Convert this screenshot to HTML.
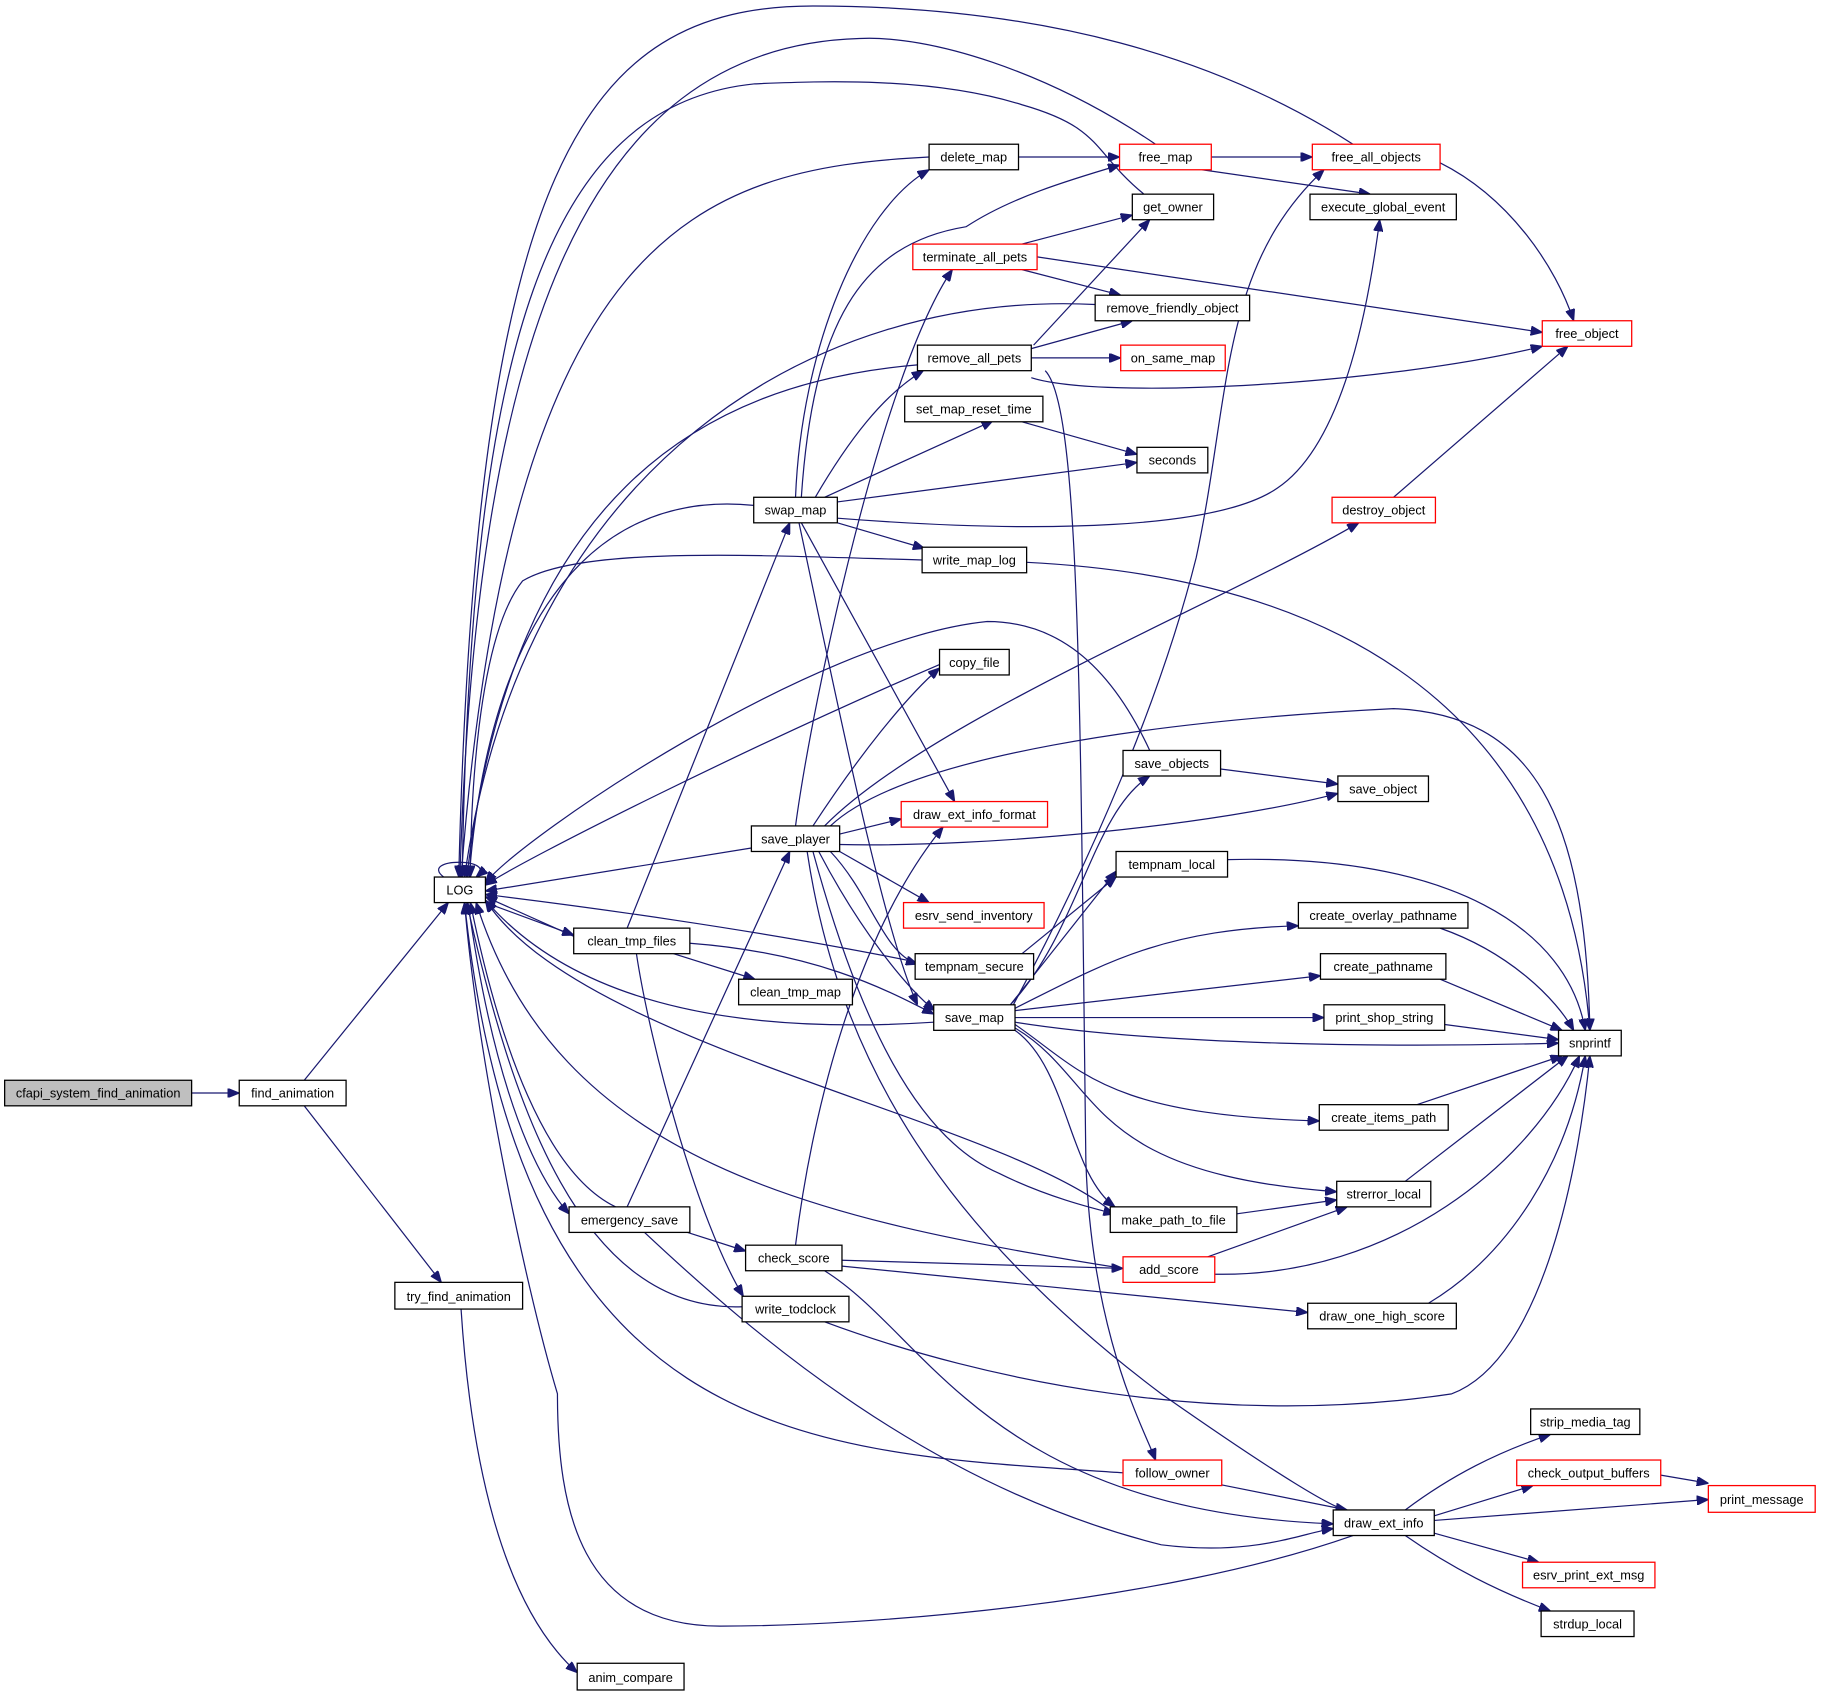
<!DOCTYPE html>
<html><head><meta charset="utf-8"><style>
html,body{margin:0;padding:0;background:#fff;}
svg{display:block;}
text{font-family:"Liberation Sans",Arial,sans-serif;font-size:11px;text-anchor:middle;fill:#000;}
.e{fill:none;stroke:#191970;stroke-width:1.05;}
.n{fill:#fff;stroke:#000;stroke-width:1.1;}
.r{fill:#fff;stroke:#ff0000;stroke-width:1.1;}
.g{fill:#bfbfbf;stroke:#000;stroke-width:1.1;}
</style></head><body>
<svg width="1821" height="1696" viewBox="0 0 1568 1460" xmlns="http://www.w3.org/2000/svg">
<defs><marker id="a" markerWidth="10" markerHeight="8" refX="10" refY="4" orient="auto" markerUnits="userSpaceOnUse"><path d="M0,0 L10,4 L0,8 z" fill="#191970" stroke="#191970"/></marker></defs>
<g marker-end="url(#a)">
<path class="e" d="M165,941 L206,941"/>
<path class="e" d="M262,930 L386,777"/>
<path class="e" d="M262,952 L380,1104"/>
<path class="e" d="M397,1127 C405,1250 430,1380 497,1440"/>
<path class="e" d="M382,755 C360,738 430,738 410,755"/>
<path class="e" d="M800,135 C600,145 440,200 397,755"/>
<path class="e" d="M877,135 L964,135"/>
<path class="e" d="M1043,135 L1130,135"/>
<path class="e" d="M1035,146 L1180,167"/>
<path class="e" d="M1165,124 C1050,50 900,5 700,5 C500,5 410,150 395,755"/>
<path class="e" d="M995,124 C900,60 800,30 740,33 C500,40 410,300 396,755"/>
<path class="e" d="M985,167 C940,130 950,110 880,90 C800,65 700,70 650,72 C470,90 405,300 398,755"/>
<path class="e" d="M1240,140 C1300,170 1340,230 1355,276"/>
<path class="e" d="M880,210 L975,185"/>
<path class="e" d="M890,297 L990,189"/>
<path class="e" d="M880,232 L965,254"/>
<path class="e" d="M893,221 L1328,286"/>
<path class="e" d="M943,262 C700,250 450,400 400,755"/>
<path class="e" d="M888,300 L975,276"/>
<path class="e" d="M888,308 L965,308"/>
<path class="e" d="M888,325 C950,345 1200,330 1328,298"/>
<path class="e" d="M900,319 C930,350 930,600 935,1000 C940,1150 985,1230 995,1257"/>
<path class="e" d="M790,314 C600,330 440,430 402,755"/>
<path class="e" d="M880,363 L979,391"/>
<path class="e" d="M685,428 C690,300 740,180 800,146"/>
<path class="e" d="M690,428 C700,280 740,210 832,195 C870,170 920,155 964,142"/>
<path class="e" d="M702,428 C730,380 760,340 795,319"/>
<path class="e" d="M710,428 L853,363 L855,362"/>
<path class="e" d="M721,432 L979,398"/>
<path class="e" d="M721,446 C900,460 1050,455 1100,420 C1160,380 1180,250 1188,189"/>
<path class="e" d="M721,450 L796,472"/>
<path class="e" d="M690,450 L822,690"/>
<path class="e" d="M688,450 C720,600 760,800 790,865"/>
<path class="e" d="M649,435 C500,420 420,550 404,755"/>
<path class="e" d="M794,482 C650,478 500,470 450,500 C410,550 405,700 405,755"/>
<path class="e" d="M884,484 C1200,500 1350,650 1369,887"/>
<path class="e" d="M1200,428 L1350,298"/>
<path class="e" d="M990,646 C950,560 900,535 850,535 C700,550 450,720 418,760"/>
<path class="e" d="M1051,662 L1152,675"/>
<path class="e" d="M685,711 C700,600 760,320 820,232"/>
<path class="e" d="M700,711 C740,650 780,600 809,575"/>
<path class="e" d="M710,711 C800,620 1050,520 1170,450"/>
<path class="e" d="M715,711 C780,650 1000,620 1200,610 C1320,615 1365,700 1369,887"/>
<path class="e" d="M723,718 L776,705"/>
<path class="e" d="M723,727 C850,730 1050,710 1152,683"/>
<path class="e" d="M723,733 L800,777"/>
<path class="e" d="M715,733 C750,770 760,820 790,830"/>
<path class="e" d="M705,733 C740,800 780,850 805,870"/>
<path class="e" d="M700,733 C740,880 790,980 860,1010 C900,1030 940,1040 960,1045"/>
<path class="e" d="M695,733 C720,900 800,1050 1000,1200 C1100,1270 1150,1300 1160,1300"/>
<path class="e" d="M647,730 L418,767"/>
<path class="e" d="M809,572 C650,640 450,740 418,762"/>
<path class="e" d="M540,799 L680,450"/>
<path class="e" d="M580,821 L650,843"/>
<path class="e" d="M594,812 C700,820 760,850 804,873"/>
<path class="e" d="M548,821 C560,900 600,1050 640,1116"/>
<path class="e" d="M494,806 L418,772"/>
<path class="e" d="M418,777 L494,805"/>
<path class="e" d="M788,828 C650,800 500,780 418,770"/>
<path class="e" d="M880,821 L961,755"/>
<path class="e" d="M870,865 L961,750"/>
<path class="e" d="M870,865 C930,800 940,700 990,668"/>
<path class="e" d="M872,866 C940,740 1000,600 1030,480 C1060,340 1050,230 1140,146"/>
<path class="e" d="M874,868 C950,830 1000,800 1118,797"/>
<path class="e" d="M874,870 L1137,840"/>
<path class="e" d="M874,876 L1140,876"/>
<path class="e" d="M874,880 C1000,900 1200,902 1342,898"/>
<path class="e" d="M874,882 C930,920 950,960 1136,965"/>
<path class="e" d="M874,885 C950,930 930,1010 1151,1026"/>
<path class="e" d="M874,887 C920,920 920,1010 960,1039"/>
<path class="e" d="M804,880 C650,890 500,870 418,775"/>
<path class="e" d="M1057,740 C1250,735 1350,800 1365,887"/>
<path class="e" d="M1240,799 C1300,820 1340,860 1355,887"/>
<path class="e" d="M1240,843 L1345,887"/>
<path class="e" d="M1244,882 L1342,895"/>
<path class="e" d="M1220,951 L1345,909"/>
<path class="e" d="M1210,1017 L1350,909"/>
<path class="e" d="M1230,1122 C1300,1080 1350,1000 1365,909"/>
<path class="e" d="M1046,1097 C1200,1100 1320,1000 1360,909"/>
<path class="e" d="M1065,1045 L1151,1033"/>
<path class="e" d="M1040,1082 L1160,1039"/>
<path class="e" d="M956,1042 C850,960 500,900 418,775"/>
<path class="e" d="M540,1039 L680,733"/>
<path class="e" d="M592,1061 L642,1077"/>
<path class="e" d="M555,1061 C650,1150 800,1280 1000,1330 C1080,1340 1120,1320 1148,1316"/>
<path class="e" d="M530,1039 C470,1010 430,900 405,777"/>
<path class="e" d="M403,777 C420,900 450,1000 490,1045"/>
<path class="e" d="M685,1072 C700,950 740,800 812,712"/>
<path class="e" d="M725,1085 L967,1092"/>
<path class="e" d="M725,1090 L1126,1130"/>
<path class="e" d="M710,1094 C800,1150 850,1300 1148,1312"/>
<path class="e" d="M967,1092 C700,1050 480,1000 410,777"/>
<path class="e" d="M639,1125 C500,1130 440,950 402,777"/>
<path class="e" d="M710,1138 C850,1190 1050,1230 1250,1200 C1330,1170 1360,1000 1369,909"/>
<path class="e" d="M967,1268 C700,1250 450,1250 400,777"/>
<path class="e" d="M1050,1278 L1160,1300"/>
<path class="e" d="M1165,1322 C1000,1380 750,1400 620,1400 C500,1400 480,1300 480,1200 C450,1100 410,900 400,777"/>
<path class="e" d="M1210,1300 C1250,1270 1290,1250 1335,1235"/>
<path class="e" d="M1235,1305 L1320,1279"/>
<path class="e" d="M1235,1309 L1471,1291"/>
<path class="e" d="M1430,1270 L1471,1277"/>
<path class="e" d="M1235,1320 L1325,1345"/>
<path class="e" d="M1210,1322 C1250,1350 1290,1370 1335,1387"/>
</g>
<rect class="g" x="4" y="930" width="161" height="22"/><text x="84.5" y="945">cfapi_system_find_animation</text>
<rect class="n" x="206" y="930" width="92" height="22"/><text x="252" y="945">find_animation</text>
<rect class="n" x="340" y="1104" width="110" height="23"/><text x="395" y="1120">try_find_animation</text>
<rect class="n" x="497" y="1432" width="92" height="23"/><text x="543" y="1448">anim_compare</text>
<rect class="n" x="374" y="755" width="44" height="22"/><text x="396" y="770">LOG</text>
<rect class="n" x="800" y="124" width="77" height="22"/><text x="838.5" y="139">delete_map</text>
<rect class="r" x="964" y="124" width="79" height="22"/><text x="1003.5" y="139">free_map</text>
<rect class="r" x="1130" y="124" width="110" height="22"/><text x="1185" y="139">free_all_objects</text>
<rect class="n" x="975" y="167" width="70" height="22"/><text x="1010" y="182">get_owner</text>
<rect class="n" x="1128" y="167" width="126" height="22"/><text x="1191" y="182">execute_global_event</text>
<rect class="r" x="786" y="210" width="107" height="22"/><text x="839.5" y="225">terminate_all_pets</text>
<rect class="n" x="943" y="254" width="133" height="22"/><text x="1009.5" y="269">remove_friendly_object</text>
<rect class="r" x="1328" y="276" width="77" height="22"/><text x="1366.5" y="291">free_object</text>
<rect class="n" x="790" y="297" width="98" height="22"/><text x="839" y="312">remove_all_pets</text>
<rect class="r" x="965" y="297" width="90" height="22"/><text x="1010" y="312">on_same_map</text>
<rect class="n" x="779" y="341" width="119" height="22"/><text x="838.5" y="356">set_map_reset_time</text>
<rect class="n" x="979" y="385" width="61" height="22"/><text x="1009.5" y="400">seconds</text>
<rect class="n" x="649" y="428" width="72" height="22"/><text x="685" y="443">swap_map</text>
<rect class="r" x="1147" y="428" width="89" height="22"/><text x="1191.5" y="443">destroy_object</text>
<rect class="n" x="794" y="471" width="90" height="22"/><text x="839" y="486">write_map_log</text>
<rect class="n" x="809" y="559" width="60" height="22"/><text x="839" y="574">copy_file</text>
<rect class="n" x="967" y="646" width="84" height="22"/><text x="1009" y="661">save_objects</text>
<rect class="n" x="1152" y="668" width="78" height="22"/><text x="1191" y="683">save_object</text>
<rect class="r" x="776" y="690" width="126" height="22"/><text x="839" y="705">draw_ext_info_format</text>
<rect class="n" x="647" y="711" width="76" height="22"/><text x="685" y="726">save_player</text>
<rect class="n" x="961" y="733" width="96" height="22"/><text x="1009" y="748">tempnam_local</text>
<rect class="r" x="778" y="777" width="121" height="22"/><text x="838.5" y="792">esrv_send_inventory</text>
<rect class="n" x="1118" y="777" width="146" height="22"/><text x="1191" y="792">create_overlay_pathname</text>
<rect class="n" x="494" y="799" width="100" height="22"/><text x="544" y="814">clean_tmp_files</text>
<rect class="n" x="788" y="821" width="102" height="22"/><text x="839" y="836">tempnam_secure</text>
<rect class="n" x="1137" y="821" width="108" height="22"/><text x="1191" y="836">create_pathname</text>
<rect class="n" x="636" y="843" width="98" height="22"/><text x="685" y="858">clean_tmp_map</text>
<rect class="n" x="804" y="865" width="70" height="22"/><text x="839" y="880">save_map</text>
<rect class="n" x="1140" y="865" width="104" height="22"/><text x="1192" y="880">print_shop_string</text>
<rect class="n" x="1342" y="887" width="54" height="22"/><text x="1369" y="902">snprintf</text>
<rect class="n" x="1136" y="951" width="111" height="22"/><text x="1191.5" y="966">create_items_path</text>
<rect class="n" x="1151" y="1017" width="81" height="22"/><text x="1191.5" y="1032">strerror_local</text>
<rect class="n" x="956" y="1039" width="109" height="22"/><text x="1010.5" y="1054">make_path_to_file</text>
<rect class="n" x="490" y="1039" width="104" height="22"/><text x="542" y="1054">emergency_save</text>
<rect class="n" x="642" y="1072" width="83" height="22"/><text x="683.5" y="1087">check_score</text>
<rect class="r" x="967" y="1082" width="79" height="22"/><text x="1006.5" y="1097">add_score</text>
<rect class="n" x="639" y="1116" width="92" height="22"/><text x="685" y="1131">write_todclock</text>
<rect class="n" x="1126" y="1122" width="128" height="22"/><text x="1190" y="1137">draw_one_high_score</text>
<rect class="n" x="1318" y="1213" width="94" height="22"/><text x="1365" y="1228">strip_media_tag</text>
<rect class="r" x="967" y="1257" width="85" height="22"/><text x="1009.5" y="1272">follow_owner</text>
<rect class="r" x="1306" y="1257" width="124" height="22"/><text x="1368" y="1272">check_output_buffers</text>
<rect class="r" x="1471" y="1279" width="92" height="23"/><text x="1517" y="1295">print_message</text>
<rect class="n" x="1148" y="1300" width="87" height="22"/><text x="1191.5" y="1315">draw_ext_info</text>
<rect class="r" x="1311" y="1345" width="114" height="22"/><text x="1368" y="1360">esrv_print_ext_msg</text>
<rect class="n" x="1327" y="1387" width="80" height="22"/><text x="1367" y="1402">strdup_local</text>
</svg>
</body></html>
